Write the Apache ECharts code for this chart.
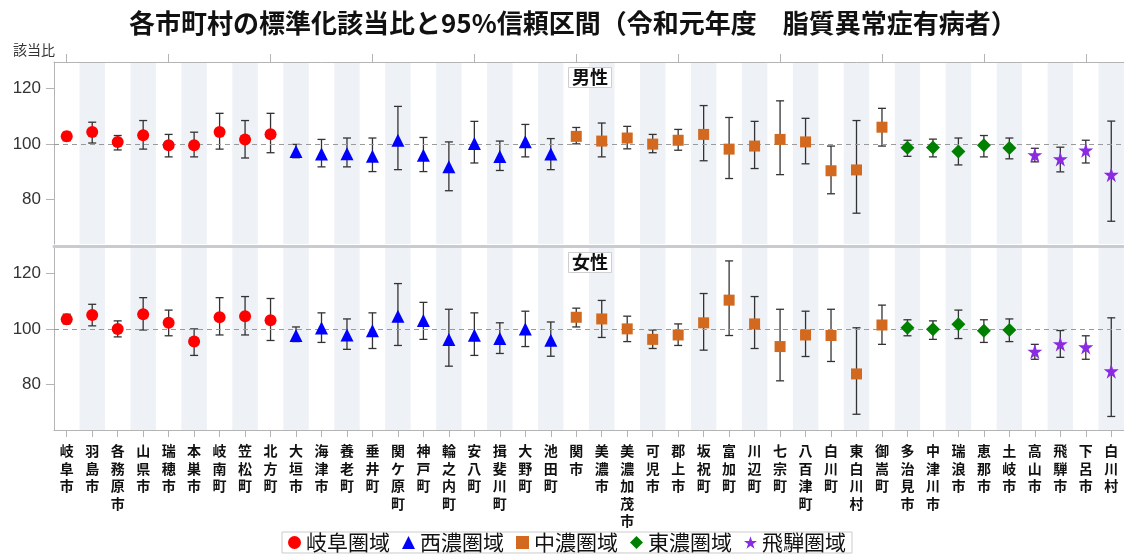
<!DOCTYPE html>
<html>
<head>
<meta charset="utf-8">
<script src="https://cdn.jsdelivr.net/npm/echarts@6/dist/echarts.min.js"></script>
<style>
html,body{margin:0;padding:0;background:#fff;}
#c{width:1124px;height:559px;}
</style>
</head>
<body>
<div id="c"></div>
<script>
const categories = ['岐阜市','羽島市','各務原市','山県市','瑞穂市','本巣市','岐南町','笠松町','北方町',
  '大垣市','海津市','養老町','垂井町','関ケ原町','神戸町','輪之内町','安八町','揖斐川町','大野町','池田町',
  '関市','美濃市','美濃加茂市','可児市','郡上市','坂祝町','富加町','川辺町','七宗町','八百津町','白川町','東白川村','御嵩町',
  '多治見市','中津川市','瑞浪市','恵那市','土岐市',
  '高山市','飛騨市','下呂市','白川村'];
const regionNames = ['岐阜圏域','西濃圏域','中濃圏域','東濃圏域','飛騨圏域'];
const regionOf = [0,0,0,0,0,0,0,0,0, 1,1,1,1,1,1,1,1,1,1,1, 2,2,2,2,2,2,2,2,2,2,2,2,2, 3,3,3,3,3, 4,4,4,4];

const maleEst = [102.8,104.4,100.8,103.2,99.6,99.6,104.4,101.7,103.6,
  97.3,96.4,96.5,95.6,101.4,96.0,91.8,100.2,95.5,100.9,96.4,
  102.8,101.1,102.2,100.0,101.4,103.5,98.2,99.3,101.7,100.8,90.4,90.7,106.1,
  98.7,98.8,97.3,99.6,98.6,
  96.1,94.6,97.8,89.0];
const maleLow = [101.2,100.4,97.9,98.2,95.4,95.4,98.2,95.0,96.9,
  95.1,91.8,91.8,90.1,90.8,90.1,83.2,93.2,90.5,95.4,90.8,
  100.1,95.4,98.3,96.9,97.8,94.0,87.6,91.2,89.0,92.9,82.1,75.1,99.3,
  95.6,95.4,92.5,95.4,94.7,
  93.6,90.0,93.2,72.2];
const maleHigh = [104.3,107.9,103.1,108.5,103.5,104.3,111.1,108.5,111.1,
  99.9,101.7,102.2,102.2,113.6,102.4,100.8,108.2,101.1,107.1,102.0,
  106.0,107.6,106.4,103.5,105.3,113.9,109.6,108.2,115.6,109.3,99.3,108.5,112.9,
  101.4,101.8,102.2,103.1,102.2,
  98.5,98.9,101.4,108.3];

const femaleEst = [103.5,105.0,100.0,105.3,102.2,95.4,104.2,104.6,103.1,
  97.6,100.3,97.8,99.3,104.6,103.0,96.2,97.7,96.5,100.0,95.9,
  104.2,103.6,100.0,96.2,97.8,102.2,110.4,101.8,93.6,97.8,97.6,83.7,101.4,
  100.4,99.9,101.7,99.3,99.6,
  91.8,94.5,93.4,84.7];
const femaleLow = [101.8,101.1,97.1,99.6,97.5,90.4,97.8,97.8,95.8,
  95.4,95.1,92.6,92.9,94.0,96.2,86.5,90.4,91.1,93.6,90.1,
  100.7,96.9,95.4,92.9,94.0,92.3,97.6,92.9,81.2,90.0,88.2,69.1,94.4,
  97.5,96.2,96.5,95.1,95.4,
  89.0,89.7,89.0,68.3];
const femaleHigh = [105.3,108.9,102.9,111.3,106.8,100.0,111.3,111.7,111.0,
  100.7,105.8,103.6,105.8,116.4,109.6,107.1,105.8,102.2,106.4,102.5,
  107.5,110.3,104.6,99.6,101.8,112.8,124.6,111.7,107.1,106.4,107.1,100.4,108.6,
  103.3,102.9,106.8,103.3,103.6,
  94.4,99.4,97.5,104.0];

const yTicks = [80,100,120];
const panelTitles = ['男性','女性'];
const mainTitle = '各市町村の標準化該当比と95%信頼区間（令和元年度　脂質異常症有病者）';
const yName = '該当比';

const colors = ['#ff0000','#0000ff','#d2691e','#008000','#8a2be2'];
const starPath = 'path://M50,0 L61.2,34.5 L97.6,34.5 L68.2,55.9 L79.4,90.5 L50,69.1 L20.6,90.5 L31.8,55.9 L2.4,34.5 L38.8,34.5 Z';
const symbols = ['circle','triangle','rect','diamond',starPath];
const symbolSizes = [12,13,11,14,15];

const cjk = '"Noto Sans CJK JP", sans-serif';

function errorSeries(lo, hi, xi, yi){
  return {
    type:'custom', xAxisIndex:xi, yAxisIndex:yi, silent:true, z:3,
    data: categories.map((c,i)=>[i, lo[i], hi[i]]),
    encode:{x:0, y:[1,2]},
    renderItem:function(params, api){
      const x = api.value(0);
      const a = api.coord([x, api.value(1)]);
      const b = api.coord([x, api.value(2)]);
      const w = 4;
      const st = {stroke:'#333', lineWidth:1.3};
      return {type:'group', children:[
        {type:'line', shape:{x1:a[0],y1:a[1],x2:b[0],y2:b[1]}, style:st},
        {type:'line', shape:{x1:a[0]-w,y1:a[1],x2:a[0]+w,y2:a[1]}, style:st},
        {type:'line', shape:{x1:b[0]-w,y1:b[1],x2:b[0]+w,y2:b[1]}, style:st}
      ]};
    }
  };
}

function pointSeries(est, xi, yi){
  const out = [];
  regionNames.forEach((rn, r)=>{
    const d = [];
    categories.forEach((c,i)=>{ if(regionOf[i]===r) d.push([i, est[i]]); });
    out.push({
      type:'scatter', name:rn, xAxisIndex:xi, yAxisIndex:yi, z:5,
      symbol:symbols[r], symbolSize:symbolSizes[r],
      itemStyle:{color:colors[r], opacity:1},
      data:d
    });
  });
  return out;
}

function refLine(xi, yi){
  return {
    type:'line', xAxisIndex:xi, yAxisIndex:yi, data:[], silent:true,
    markLine:{silent:true, symbol:'none', label:{show:false},
      lineStyle:{type:[5,4], color:'#9a9a9a', width:1},
      data:[{yAxis:100}]}
  };
}

const chart = echarts.init(document.getElementById('c'), null, {renderer:'canvas'});
const bandColors = ['rgba(255,255,255,0)','#eef1f6'];

const yAxisBase = (min,max,gi)=>({
  type:'value', gridIndex:gi, min:min, max:max,
  axisLine:{show:true, lineStyle:{color:'#b4b4b4', width:1}},
  axisTick:{show:true, length:8, customValues:yTicks, lineStyle:{color:'#b4b4b4'}},
  axisLabel:{customValues:yTicks, fontSize:17, color:'#333', fontFamily:'"Liberation Sans", Arial, sans-serif', margin:13},
  splitLine:{show:false}
});

const option = {
  animation:false,
  backgroundColor:'#fff',
  title:[
    {text:mainTitle, left:124, top:5, textStyle:{fontFamily:cjk, fontSize:26, fontWeight:'bold', color:'#111'}},
    {text:yName, left:8, top:38, textStyle:{fontFamily:cjk, fontSize:14, fontWeight:'normal', color:'#333'}},
    {text:panelTitles[0], left:568, top:67, padding:[1,4,2,4], borderColor:'#cfcfcf', borderWidth:1, backgroundColor:'#fff',
      textStyle:{fontFamily:cjk, fontSize:18, fontWeight:'bold', color:'#111'}},
    {text:panelTitles[1], left:568, top:252, padding:[1,4,2,4], borderColor:'#cfcfcf', borderWidth:1, backgroundColor:'#fff',
      textStyle:{fontFamily:cjk, fontSize:18, fontWeight:'bold', color:'#111'}}
  ],
  legend:{
    data:regionNames.map((n,r)=>({name:n, icon:symbols[r]})),
    left:282, top:532, itemWidth:13, itemHeight:13, itemGap:12,
    padding:[0,6,0,6], borderColor:'#cccccc', borderWidth:1,
    textStyle:{fontFamily:cjk, fontSize:21, color:'#111'},
    selectedMode:false
  },
  grid:[
    {left:54, right:0, top:62, height:182},
    {left:54, right:0, top:246, height:184}
  ],
  xAxis:[
    {type:'category', gridIndex:0, position:'top', data:categories,
      axisLine:{show:true, lineStyle:{color:'#b4b4b4'}},
      axisTick:{show:true, alignWithLabel:true, length:8, lineStyle:{color:'#b4b4b4'}},
      axisLabel:{show:false},
      splitArea:{show:true, interval:0, areaStyle:{color:bandColors}}},
    {type:'category', gridIndex:0, position:'bottom', data:categories,
      axisLine:{show:false}, axisTick:{show:false}, axisLabel:{show:false}},
    {type:'category', gridIndex:1, position:'top', data:categories,
      axisLine:{show:true, lineStyle:{color:'#c8cbcf', width:3}}, axisTick:{show:false}, axisLabel:{show:false}},
    {type:'category', gridIndex:1, position:'bottom', data:categories,
      axisLine:{show:true, lineStyle:{color:'#b4b4b4'}},
      axisTick:{show:true, alignWithLabel:true, length:7, lineStyle:{color:'#b4b4b4'}},
      axisLabel:{interval:0, margin:12, fontFamily:cjk, fontSize:14, fontWeight:'bold', color:'#111', lineHeight:17.5,
        formatter:v=>v.split('').join('\n')},
      splitArea:{show:true, interval:0, areaStyle:{color:bandColors}}}
  ],
  yAxis:[ yAxisBase(64,129.6,0), yAxisBase(63.4,130,1) ],
  series:[
    refLine(0,0), refLine(3,1),
    errorSeries(maleLow, maleHigh, 0, 0),
    errorSeries(femaleLow, femaleHigh, 3, 1),
    ...pointSeries(maleEst, 0, 0),
    ...pointSeries(femaleEst, 3, 1)
  ]
};
chart.setOption(option);
</script>
</body>
</html>
